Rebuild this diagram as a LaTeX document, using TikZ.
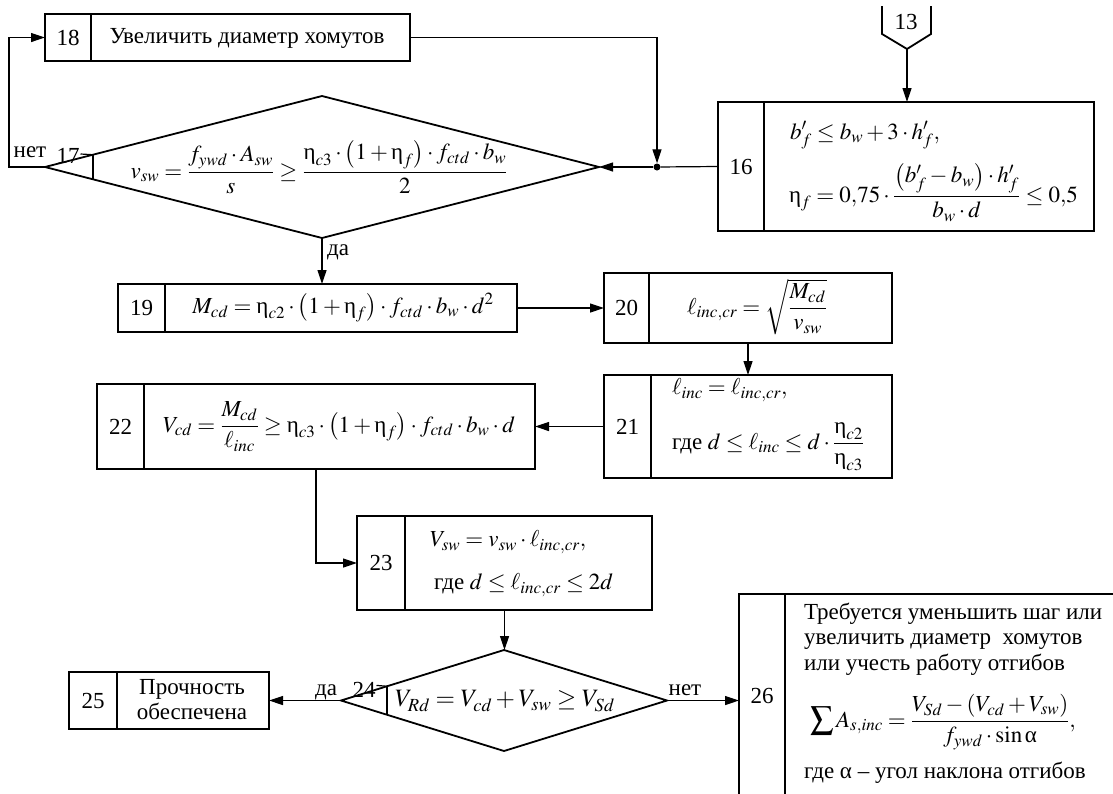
\documentclass[tikz,border=0pt]{standalone}
\usepackage{amsmath}
\usepackage{mathptmx}
\usepackage{fontspec}
\setmainfont{Liberation Serif}
\usetikzlibrary{arrows.meta,shapes.geometric,calc}
\newcommand{\ueta}{\text{η}}
\newcommand{\ualpha}{\text{α}}
\tikzset{
  box/.style={draw, rectangle, line width=1.8pt, inner sep=0pt, outer sep=0pt},
  dia/.style={draw, diamond, line width=1.8pt, inner sep=0pt, outer sep=0pt},
  boxline/.style={line width=1.8pt},
  thin/.style={line width=1.2pt},
  conn/.style={line width=1.2pt, -{Triangle[length=14pt,width=9pt]}},
  txt/.style={inner sep=0pt, outer sep=0pt},
}
% name, x1, y1, x2, y2, divider x, number
\newcommand{\mkbox}[7]{%
  \node[box, minimum width={#4-#2}, minimum height={#5-#3}] (#1) at ({(#2+#4)/2},{(#3+#5)/2}) {};
  \draw[boxline] ($(#1.north west)+(#6-#2,0)$) -- ($(#1.south west)+(#6-#2,0)$);
  \node[txt] (#1n) at ({(#2+#6)/2},{(#3+#5)/2}) {#7};
}
\begin{document}
\begin{tikzpicture}[x=1pt,y=-1pt,font=\fontsize{23}{27.6}\selectfont]
\useasboundingbox (0,0) rectangle (1113,793);

% boxes
\mkbox{b18}{45}{14}{410}{61}{91}{18}
\node[txt] (t18) at (247,38) {Увеличить диаметр хомутов};

\mkbox{b16}{718}{102}{1094}{231}{764}{16}
\node[txt, anchor=base west] (t16a) at (790,139) {$b_f^{\prime} \le b_w + 3\cdot h_f^{\prime},$};
\node[txt, anchor=base west] (t16b) at (789,202) {$\ueta_f = 0{,}75\cdot\dfrac{\bigl(b_f^{\prime} - b_w\bigr)\cdot h_f^{\prime}}{b_w\cdot d} \le 0{,}5$};

\mkbox{b19}{118}{284}{517}{332}{165}{19}
\node[txt] (t19) at (343,308) {$M_{cd} = \ueta_{c2}\cdot\left(1+\ueta_f\right)\cdot f_{ctd}\cdot b_w\cdot d^2$};

\mkbox{b20}{604}{273}{892}{343}{649}{20}
\node[txt, anchor=base] (t20) at (757,314) {$\ell_{inc,cr} = \sqrt{\dfrac{M_{cd}}{v_{sw}}}$};

\mkbox{b21}{604}{375}{892}{478}{651}{21}
\node[txt, anchor=west] (t21a) at (672,390) {$\ell_{inc} = \ell_{inc,cr},$};
\node[txt, anchor=base west] (t21b) at (672,449) {где $d \le \ell_{inc} \le d\cdot\dfrac{\ueta_{c2}}{\ueta_{c3}}$};

\mkbox{b22}{97}{384}{535}{469}{144}{22}
\node[txt, anchor=base] (t22) at (339,432) {$V_{cd} = \dfrac{M_{cd}}{\ell_{inc}} \ge \ueta_{c3}\cdot\left(1+\ueta_f\right)\cdot f_{ctd}\cdot b_w\cdot d$};

\mkbox{b23}{357}{516}{652}{610}{405}{23}
\node[txt, anchor=west] (t23a) at (430,542) {$V_{sw} = v_{sw}\cdot\ell_{inc,cr},$};
\node[txt, anchor=west] (t23b) at (434,585) {где $d \le \ell_{inc,cr} \le 2d$};

\mkbox{b25}{69}{672}{269}{729}{117}{25}
\node[txt, align=center, font=\fontsize{23}{25}\selectfont] (t25) at (192,700) {Прочность\\обеспечена};

\begin{scope}
\clip (0,0) rectangle (1113,793);
\mkbox{b26}{739}{594}{1140}{806}{785}{}
\end{scope}
\node[txt] (n26) at (762,696) {26};
\node[txt, anchor=north west, align=left, font=\fontsize{23}{25.5}\selectfont] (t26a) at (804,603) {Требуется уменьшить шаг или\\увеличить диаметр\ \ хомутов\\или учесть работу отгибов};
\node[txt, anchor=base west] (t26b) at (810,727) {$\displaystyle\sum A_{s,inc} = \dfrac{V_{Sd} - \left(V_{cd}+V_{sw}\right)}{f_{ywd}\cdot \sin\ualpha},$};
\node[txt, anchor=west] (t26c) at (804,773) {где α -- угол наклона отгибов};

% diamonds
\node[dia, minimum width=554, minimum height=142] (d17) at (322,167) {};
\draw[boxline] ($(d17.west)!0.1733!(d17.north)$) -- ($(d17.west)!0.1733!(d17.south)$);
\node[txt, anchor=base] (t17) at (319,178) {$v_{sw} = \dfrac{f_{ywd}\cdot A_{sw}}{s} \ge \dfrac{\ueta_{c3}\cdot\left(1+\ueta_f\right)\cdot f_{ctd}\cdot b_w}{2}$};
\node[txt, anchor=base] (n17) at (68,163) {17};
\draw[thin] (n17.north east |- 0,154) ++(1,0) -- ($(d17.west)!0.1733!(d17.north)$);

\node[dia, minimum width=326, minimum height=101] (d24) at (504,700.5) {};
\draw[boxline] ($(d24.west)!0.282!(d24.north)$) -- ($(d24.west)!0.282!(d24.south)$);
\node[txt, font=\fontsize{25}{30}\selectfont] (t24) at (505,701) {$V_{Rd} = V_{cd} + V_{sw} \ge V_{Sd}$};
\node[txt, anchor=base] (n24) at (364,697) {24};
\draw[thin] ($(n24.east)+(1,-4)$) -- ($(d24.west)!0.282!(d24.north)$);

% off-page connector 13
\coordinate (c13) at (907,49);
\draw[boxline] (882,6) -- (882,34) -- (c13) -- (931,34) -- (931,6);
\node[txt] (n13) at (906,22) {13};

% junction
\node[circle, fill, inner sep=0pt, minimum size=7pt] (dot) at (657,167) {};

% connectors
\draw[conn] (c13) -- (c13 |- b16.north);
\draw[thin] (b16.west) -- (dot);
\draw[conn] (dot) -- (d17.east);
\draw[conn] (b18.east) -| (dot.north);
\draw[conn] (d17.west) -- ++(-36,0) |- (b18.west);
\draw[conn] (d17.south) -- (d17.south |- b19.north);
\draw[conn] (b19.east) -- (b19.east -| b20.west);
\draw[conn] (b20.south) -- (b20.south |- b21.north);
\draw[conn] (b21.west) -- (b21.west -| b22.east);
\draw[conn] (b22.south) |- (b23.west);
\draw[conn] (b23.south) -- (b23.south |- d24.north);
\draw[conn] (d24.west) -- (d24.west -| b25.east);
\draw[conn] (d24.east) -- (d24.east -| b26.west);

% branch labels
\node[txt, anchor=base] (l17no) at (30,157) {нет};
\node[txt, anchor=base] (l17yes) at (338,255) {да};
\node[txt, anchor=base] (l24yes) at (326,695) {да};
\node[txt, anchor=base] (l24no) at (685,695) {нет};
\end{tikzpicture}
\end{document}
